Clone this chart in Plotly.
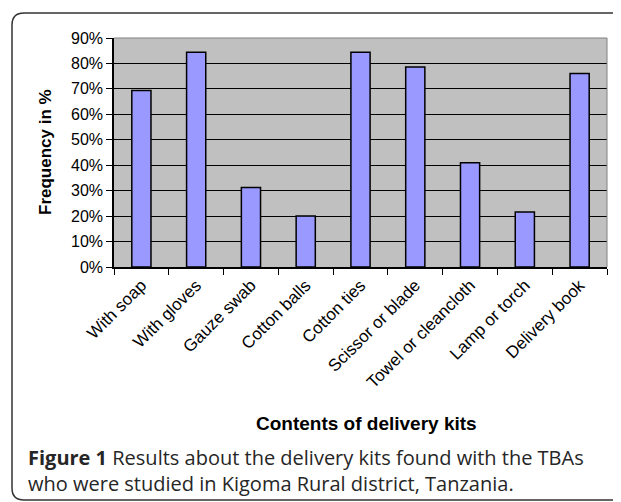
import plotly.graph_objects as go

categories = ["With soap", "With gloves", "Gauze swab", "Cotton balls", "Cotton ties",
              "Scissor or blade", "Towel or cleancloth", "Lamp or torch", "Delivery book"]
frequency = [69.4, 84.4, 31.2, 20.0, 84.4, 78.6, 41.0, 21.6, 76.0]
y_ticks = [0, 10, 20, 30, 40, 50, 60, 70, 80, 90]
y_tick_labels = [f"{v}%" for v in y_ticks]

# page body has an 8px margin; work in reference-image pixel coordinates
OFF = 8
W, H = 621 - OFF, 502 - OFF
PL, PR, PT, PB = 114, 607, 38, 267          # plot area in reference pixels
L, R, T, B = PL - OFF, 621 - PR, PT - OFF, 502 - PB
pw, ph = PR - PL, PB - PT

def px(x):
    return (x - PL) / pw

def py(y):
    return (PB - y) / ph

fig = go.Figure()
fig.add_trace(go.Bar(
    x=categories, y=frequency,
    marker=dict(color="#9999FF", line=dict(color="black", width=1.5)),
))

frame_path = (f"M {px(680)},{py(500)} L {px(24)},{py(500)} "
              f"Q {px(12)},{py(500)} {px(12)},{py(488)} "
              f"L {px(12)},{py(25)} "
              f"Q {px(12)},{py(13)} {px(24)},{py(13)} L {px(680)},{py(13)}")

cap_font = dict(family="Open Sans, Noto Sans", size=20, color="#262626")

fig.update_layout(
    width=W, height=H,
    margin=dict(l=L, r=R, t=T, b=B, autoexpand=False),
    paper_bgcolor="white",
    plot_bgcolor="#C0C0C0",
    bargap=0.65,
    showlegend=False,
    font=dict(family="Liberation Sans, Arial", color="black"),
    xaxis=dict(
        type="category",
        tickangle=-45,
        tickfont=dict(size=17),
        ticks="outside", tickson="boundaries", ticklen=6, tickcolor="black",
        showline=True, linecolor="black", linewidth=1.5,
        showgrid=False, automargin=False,
    ),
    yaxis=dict(
        range=[0, 90],
        tickvals=y_ticks, ticktext=y_tick_labels,
        tickfont=dict(size=16),
        ticks="outside", ticklen=6, tickcolor="black",
        showline=True, linecolor="black", linewidth=1.5,
        showgrid=True, gridcolor="black", gridwidth=1.3,
        zeroline=False, automargin=False,
    ),
    shapes=[
        dict(type="line", xref="paper", yref="paper", x0=0, x1=1, y0=1, y1=1,
             line=dict(color="#808080", width=1)),
        dict(type="line", xref="paper", yref="paper", x0=1, x1=1, y0=0, y1=1,
             line=dict(color="#808080", width=1)),
        dict(type="path", xref="paper", yref="paper", path=frame_path,
             line=dict(color="#333333", width=1.5)),
    ],
    annotations=[
        dict(text="<b>Frequency in %</b>", xref="paper", yref="paper",
             x=px(45), y=py(152), showarrow=False, textangle=-90,
             font=dict(size=17), xanchor="center", yanchor="middle"),
        dict(text="<b>Contents of delivery kits</b>", xref="paper", yref="paper",
             x=px(366), y=py(423), showarrow=False, font=dict(size=19),
             xanchor="center", yanchor="middle"),
        dict(text="<b>Figure 1</b> Results about the delivery kits found with the TBAs",
             xref="paper", yref="paper", x=px(26), y=py(457), showarrow=False,
             xanchor="left", yanchor="middle", font=cap_font),
        dict(text="who were studied in Kigoma Rural district, Tanzania.",
             xref="paper", yref="paper", x=px(26), y=py(483), showarrow=False,
             xanchor="left", yanchor="middle", font=cap_font),
    ],
)

fig.write_html("out.html")
